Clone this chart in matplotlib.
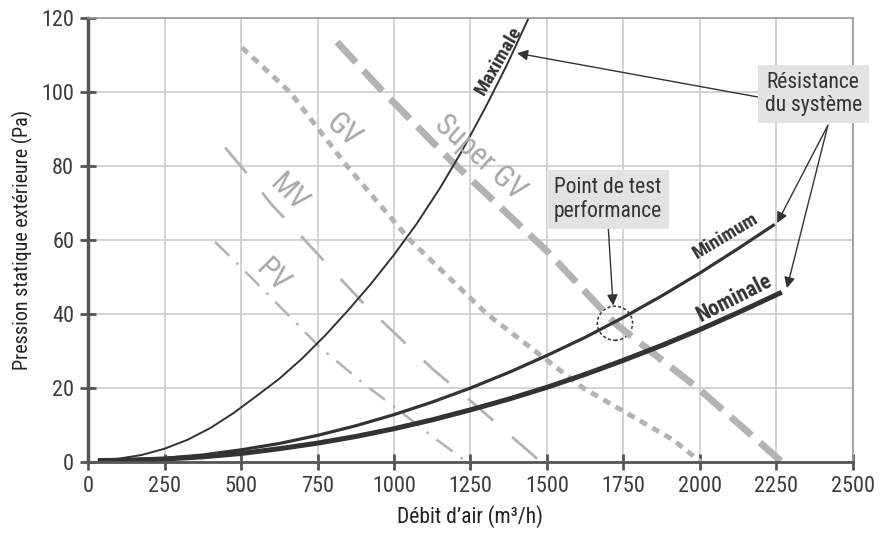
import matplotlib
matplotlib.use("Agg")
import matplotlib.pyplot as plt
from matplotlib.patches import Ellipse

plt.rcParams["font.family"] = ["Roboto Condensed", "Roboto", "DejaVu Sans"]

# system resistance curves (m3/h, Pa)
q_max = [40, 100, 175, 250, 325, 400, 475, 550, 625, 700, 775, 850, 925,
         1000, 1075, 1150, 1225, 1300, 1370, 1440]
p_max = [0.5, 0.9, 1.9, 3.6, 6.0, 9.2, 13.2, 17.8, 22.5, 28, 34.2, 41, 48.2,
         56, 64.5, 74, 84.5, 96, 107.5, 120]

q_min = [40, 125, 250, 375, 500, 625, 750, 875, 1000, 1125, 1250, 1375,
         1500, 1625, 1750, 1875, 2000, 2125, 2240]
p_min = [0.5, 0.6, 1.0, 1.9, 3.3, 5.0, 7.2, 9.8, 12.8, 16.2, 20, 24.2,
         28.8, 33.7, 39.1, 44.9, 51.1, 57.7, 64]

q_nom = [40, 125, 250, 375, 500, 625, 750, 875, 1000, 1125, 1250, 1375,
         1500, 1625, 1750, 1875, 2000, 2125, 2260]
p_nom = [0.4, 0.5, 0.8, 1.4, 2.3, 3.6, 5.1, 6.9, 9.0, 11.4, 14.1, 17.0,
         20.2, 23.7, 27.5, 31.5, 35.8, 40.4, 45.6]

# fan curves
q_sgv = [814, 954, 1173, 1500, 1722, 2000, 2268]
p_sgv = [113.5, 101, 82.5, 57, 37.5, 19.5, 0]

q_gv = [503, 660, 846, 1052, 1304, 1618, 1912, 2003]
p_gv = [112, 100, 80, 60, 40, 20, 6, 0]

q_mv = [448, 529, 601, 686, 814, 899, 1000, 1128, 1258, 1369, 1480]
p_mv = [85, 77, 69.5, 62, 50.5, 43, 35, 25, 16, 8, 0]

q_pv = [415, 503, 600, 758, 911, 1000, 1124, 1238]
p_pv = [59.5, 52.4, 44.3, 31, 20.5, 15, 7, 0]

x_ticks = [0, 250, 500, 750, 1000, 1250, 1500, 1750, 2000, 2250, 2500]
y_ticks = [0, 20, 40, 60, 80, 100, 120]

test_point = (1722, 37.5)

DARK = "#333333"
FAN = "#b3b3b3"

fig = plt.figure(figsize=(8.9, 5.44), dpi=100)
ax = fig.add_axes([0.0989, 0.1507, 0.8595, 0.8162])
ax.set_xlim(0, 2500)
ax.set_ylim(0, 120)
ax.set_xticks(x_ticks)
ax.set_yticks(y_ticks)
ax.grid(True, color="#cccccc", lw=1.2)
ax.set_axisbelow(True)

for s in ("top", "right"):
    ax.spines[s].set_color("#9a9a9a")
    ax.spines[s].set_linewidth(1.2)
ax.spines["left"].set_color("#555555")
ax.spines["left"].set_linewidth(2.5)
ax.spines["bottom"].set_color("#555555")
ax.spines["bottom"].set_linewidth(2.0)
ax.tick_params(direction="inout", length=12, width=2, color="#555555",
               labelsize=16, labelcolor="#3c3c3c", pad=4)

# fan curves (gray)
ax.plot(q_sgv, p_sgv, color=FAN, lw=5, dashes=(4, 1.6), solid_capstyle="butt")
ax.plot(q_gv, p_gv, color=FAN, lw=3.5, dashes=(1.6, 1.3))
ax.plot(q_mv, p_mv, color=FAN, lw=2, dashes=(12, 9))
ax.plot(q_pv, p_pv, color=FAN, lw=1.8, dashes=(8, 4, 1, 4))

# system curves
ax.plot(q_max, p_max, color=DARK, lw=1.4)
ax.plot(q_min, p_min, color=DARK, lw=2.3)
ax.plot(q_nom, p_nom, color=DARK, lw=3.6)

# fan labels
lab = dict(color="#a8a8a8", fontsize=22, ha="center", va="center")
ax.text(833, 89.7, "GV", rotation=-42, **lab)
ax.text(1281, 82.4, "Super GV", rotation=-42, **lab)
ax.text(657, 72.7, "MV", rotation=-45, **lab)
ax.text(605, 50.3, "PV", rotation=-45, **lab)

# curve labels
ax.text(1343, 108.5, "Maximale", rotation=60, color=DARK, fontsize=14,
        ha="center", va="center", fontweight="bold")
ax.text(2085, 61.0, "Minimum", rotation=31, color=DARK, fontsize=14,
        ha="center", va="center", fontweight="bold")
ax.text(2112, 44.2, "Nominale", rotation=27, color=DARK, fontsize=15.5,
        ha="center", va="center", fontweight="bold")

# test point circle
ax.add_patch(Ellipse(test_point, width=115, height=9.2, fill=False,
                     ec=DARK, lw=1.1, ls=(0, (2, 1.5))))

box = dict(boxstyle="square,pad=0.32", fc="#e3e3e3", ec="none")
arrow = dict(arrowstyle="-|>", color=DARK, lw=1.0, mutation_scale=16,
             shrinkA=0, shrinkB=0)
ax.annotate("Point de test\nperformance", xy=(1716, 42.3), xytext=(1699, 71),
            ha="center", va="center", fontsize=15.5, color=DARK, bbox=box,
            linespacing=1.1, arrowprops=dict(arrow, relpos=(0.5, 0)))

ax.annotate("Résistance\ndu système", xy=(1402, 110.5), xytext=(2370, 99.5),
            ha="center", va="center", fontsize=15.5, color=DARK, bbox=box,
            linespacing=1.1, arrowprops=dict(arrow, relpos=(0, 0.4)),
            annotation_clip=False)
ax.annotate("", xy=(2252, 64.6), xytext=(2418, 91), arrowprops=arrow,
            annotation_clip=False)
ax.annotate("", xy=(2284, 47), xytext=(2418, 91), arrowprops=arrow,
            annotation_clip=False)

ax.set_xlabel("Débit d’air (m³/h)", fontsize=15.5, color="#222222", labelpad=6)
ax.set_ylabel("Pression statique extérieure (Pa)", fontsize=14.5,
              color="#222222", labelpad=6)

fig.savefig("out.png", dpi=100)
